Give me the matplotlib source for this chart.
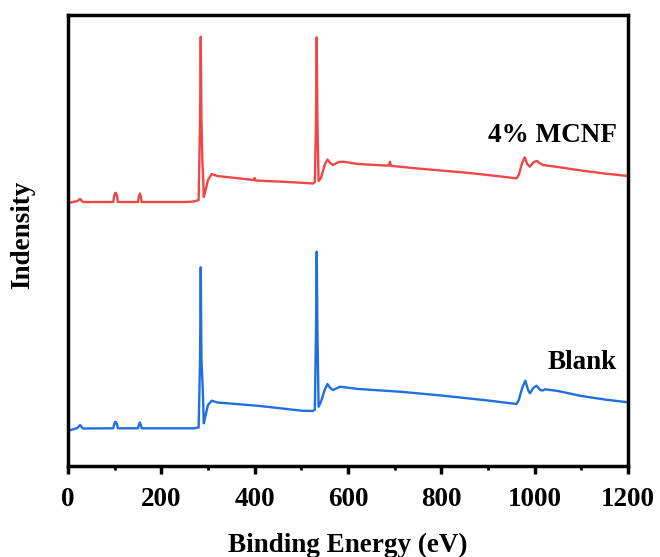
import matplotlib
matplotlib.use('Agg')
import matplotlib.pyplot as plt
from matplotlib.ticker import MultipleLocator

plt.rcParams['font.family'] = ['Liberation Serif', 'DejaVu Serif']
plt.rcParams['font.weight'] = 'bold'

# XPS survey, binding energy (eV) and intensity (a.u.)
mcnf_be = [0, 10, 20, 26, 32, 60, 97, 99, 101, 103, 105, 107, 150, 152, 154, 156, 158, 200, 250,
           270, 280, 283, 284.5, 286, 288, 289.5, 291, 295, 300, 308, 320, 360, 398,
           400, 402, 450, 500, 525, 529, 531.5, 533, 534.5, 537, 542, 550, 556, 562,
           568, 580, 590, 622, 680, 688, 690, 692, 750, 850, 900, 961, 966, 973, 979,
           984, 990, 998, 1005, 1012, 1018, 1050, 1100, 1150, 1200]
mcnf_px = [203, 202, 201, 199, 202, 202, 202, 196, 193, 193, 196, 202, 202, 196, 193.5, 196, 202, 202, 202,
           201.5, 200, 120, 36.7, 120, 162, 175, 197, 190, 180, 174, 176, 178, 180,
           178, 180.5, 181.5, 182.7, 183.5, 182, 120, 37.3, 120, 181, 178, 165, 159.5, 163,
           165, 162, 161.7, 164, 165.5, 165.5, 161.7, 165.8, 168.5, 172.5, 175, 178.3, 175, 163, 157.3,
           164, 166.7, 162, 161, 163.5, 165, 167, 170.5, 173.5, 176]

blank_be = [0, 10, 20, 26, 32, 97, 99, 101, 103, 105, 107, 150, 152, 154, 156, 158, 270, 280, 283, 284.5,
            286, 288, 289.5, 291, 295, 300, 308, 320, 360, 411, 450, 500, 525, 529,
            531.5, 533, 534.5, 537, 542, 550, 556, 562, 568, 583, 622, 711, 800, 900,
            961, 966, 974, 980, 986, 990, 997, 1004, 1012, 1018, 1022, 1050, 1100, 1150, 1200]
blank_px = [430.7, 429.5, 428, 425, 428.5, 428.3, 424.5, 422, 422, 424.5, 428.3, 428.3, 425, 422.5, 425, 428.3,
            428.3, 427.5, 360, 267.3,
            360, 380, 400, 423.3, 415, 405, 400.7, 402.5, 404, 406, 408, 410.7, 411, 409.5,
            330, 251.7, 330, 406.7, 402, 390, 384, 388, 390, 386.7, 389, 391.7, 395.5, 400.5,
            404, 400, 387, 380.7, 390, 393.3, 388, 385.7, 390, 390.5, 389.3, 391, 396, 399.5, 402.3]

# intensity in arbitrary units (picture height above the x axis)
mcnf_int = [466 - v for v in mcnf_px]
blank_int = [466 - v for v in blank_px]

fig = plt.figure(figsize=(6.6, 5.57), dpi=100)
ax = fig.add_axes([0.103, 0.1634, 0.8485, 0.8096])

ax.plot(mcnf_be, mcnf_int, color='#f04646', linewidth=1.7)
ax.plot(blank_be, blank_int, color='#1f6fe0', linewidth=1.7)

ax.text(1177, 331, '4% MCNF', ha='right', va='center', fontsize=19.5, fontweight='bold')
ax.text(1176, 103, 'Blank', ha='right', va='center', fontsize=19.5, fontweight='bold')

ax.set_xlim(0, 1200)
ax.set_ylim(0, 451)
ax.set_yticks([])
ax.xaxis.set_major_locator(MultipleLocator(200))
ax.xaxis.set_minor_locator(MultipleLocator(100))
ax.tick_params(axis='x', which='major', direction='out', length=6, width=2.5,
               labelsize=19.5, pad=9)
ax.tick_params(axis='x', which='minor', direction='out', length=3, width=2)
for lbl in ax.get_xticklabels():
    lbl.set_fontweight('bold')
for sp in ax.spines.values():
    sp.set_linewidth(2.5)

ax.set_xlabel('Binding Energy (eV)', fontsize=19.5, fontweight='bold', labelpad=15)
ax.set_ylabel('Indensity', fontsize=19.5, fontweight='bold')
ax.yaxis.set_label_coords(-0.058, 0.512)

fig.savefig('out.png', dpi=100)
